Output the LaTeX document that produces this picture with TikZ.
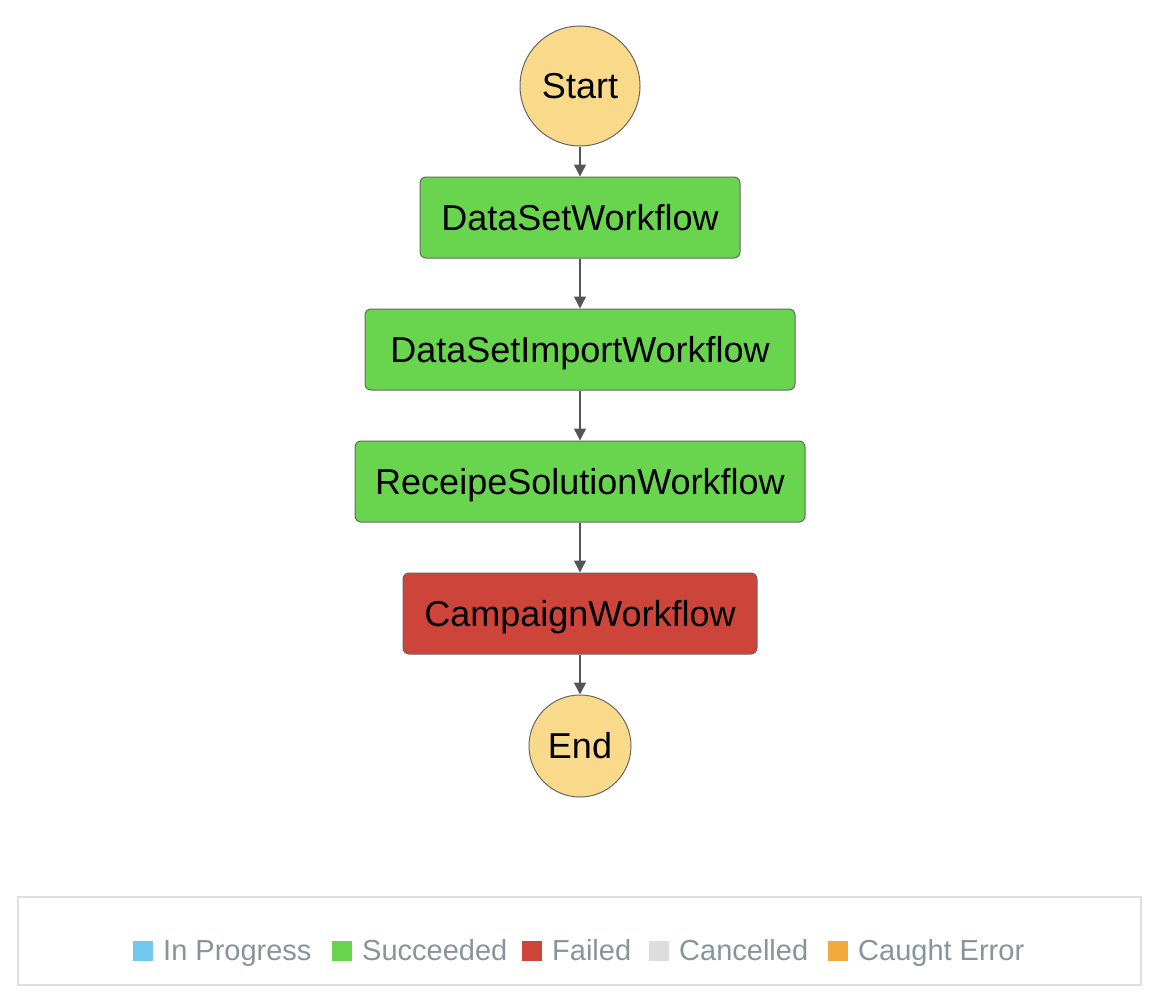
\documentclass[tikz,border=0pt]{standalone}
\usepackage{fontspec}
\setmainfont{Liberation Sans}
\usetikzlibrary{arrows.meta, positioning}
\definecolor{termfill}{HTML}{F9DA8A}
\definecolor{okgreen}{HTML}{69D44E}
\definecolor{failred}{HTML}{CC443A}
\definecolor{edgegray}{HTML}{666666}
\definecolor{arrowgray}{HTML}{555555}
\definecolor{legendgray}{HTML}{879596}
\definecolor{runblue}{HTML}{71C8EB}
\definecolor{cancelgray}{HTML}{DDDDDD}
\definecolor{caughtorange}{HTML}{F2A93B}
\definecolor{framegray}{HTML}{DFDFDF}

\begin{document}
\begin{tikzpicture}[x=1pt, y=-1pt,
    state/.style = {rectangle, draw=edgegray, line width=1pt, fill=okgreen, rounded corners=6pt, minimum height=81pt, inner sep=0pt, text height=25.8pt, text depth=0pt, font=\fontsize{36}{40}\selectfont},
    failed/.style = {state, fill=failred},
    terminal/.style = {circle, draw=edgegray, line width=1pt, fill=termfill, inner sep=0pt, text height=25.8pt, text depth=0pt, font=\fontsize{36}{40}\selectfont},
    arrow/.style = {-{Triangle[width=12pt, length=12pt]}, line width=1.5pt, draw=arrowgray, fill=arrowgray},
    legendframe/.style = {rectangle, draw=framegray, line width=2pt, minimum width=1123pt, minimum height=88pt, inner sep=0pt},
    legendkey/.style = {rectangle, minimum width=20pt, minimum height=20pt, inner sep=0pt},
    legendtext/.style = {anchor=base west, inner sep=0pt, text=legendgray, font=\fontsize{29}{32}\selectfont}
]
\useasboundingbox (0,0) rectangle (1164,1006);

% States
\node[terminal, minimum size=120pt] (start) at (580,86) {Start};
\node[state, minimum width=320pt] (dataset) at (580,217.5) {DataSetWorkflow};
\node[state, minimum width=430pt] (import) at (580,349.5) {DataSetImportWorkflow};
\node[state, minimum width=450pt] (solution) at (580,481.5) {ReceipeSolutionWorkflow};
\node[failed, minimum width=354pt] (campaign) at (580,613.5) {CampaignWorkflow};
\node[terminal, minimum size=102pt] (end) at (580,746) {End};

% Transitions
\draw[arrow] (start) -- (dataset);
\draw[arrow] (dataset) -- (import);
\draw[arrow] (import) -- (solution);
\draw[arrow] (solution) -- (campaign);
\draw[arrow] (campaign) -- (end);

% Legend
\node[legendframe] (legend) at (579.5,941) {};
\foreach \kx/\kcol/\kname/\klabel in {133/runblue/progress/In Progress, 332/okgreen/succeeded/Succeeded, 522/failred/failedkey/Failed, 649/cancelgray/cancelled/Cancelled, 828/caughtorange/caught/Caught Error} {
  \node[legendkey, fill=\kcol] (\kname) at (\kx+10,951) {};
  \node[legendtext] (\kname-text) at (\kx+30,960) {\klabel};
}

\end{tikzpicture}
\end{document}
